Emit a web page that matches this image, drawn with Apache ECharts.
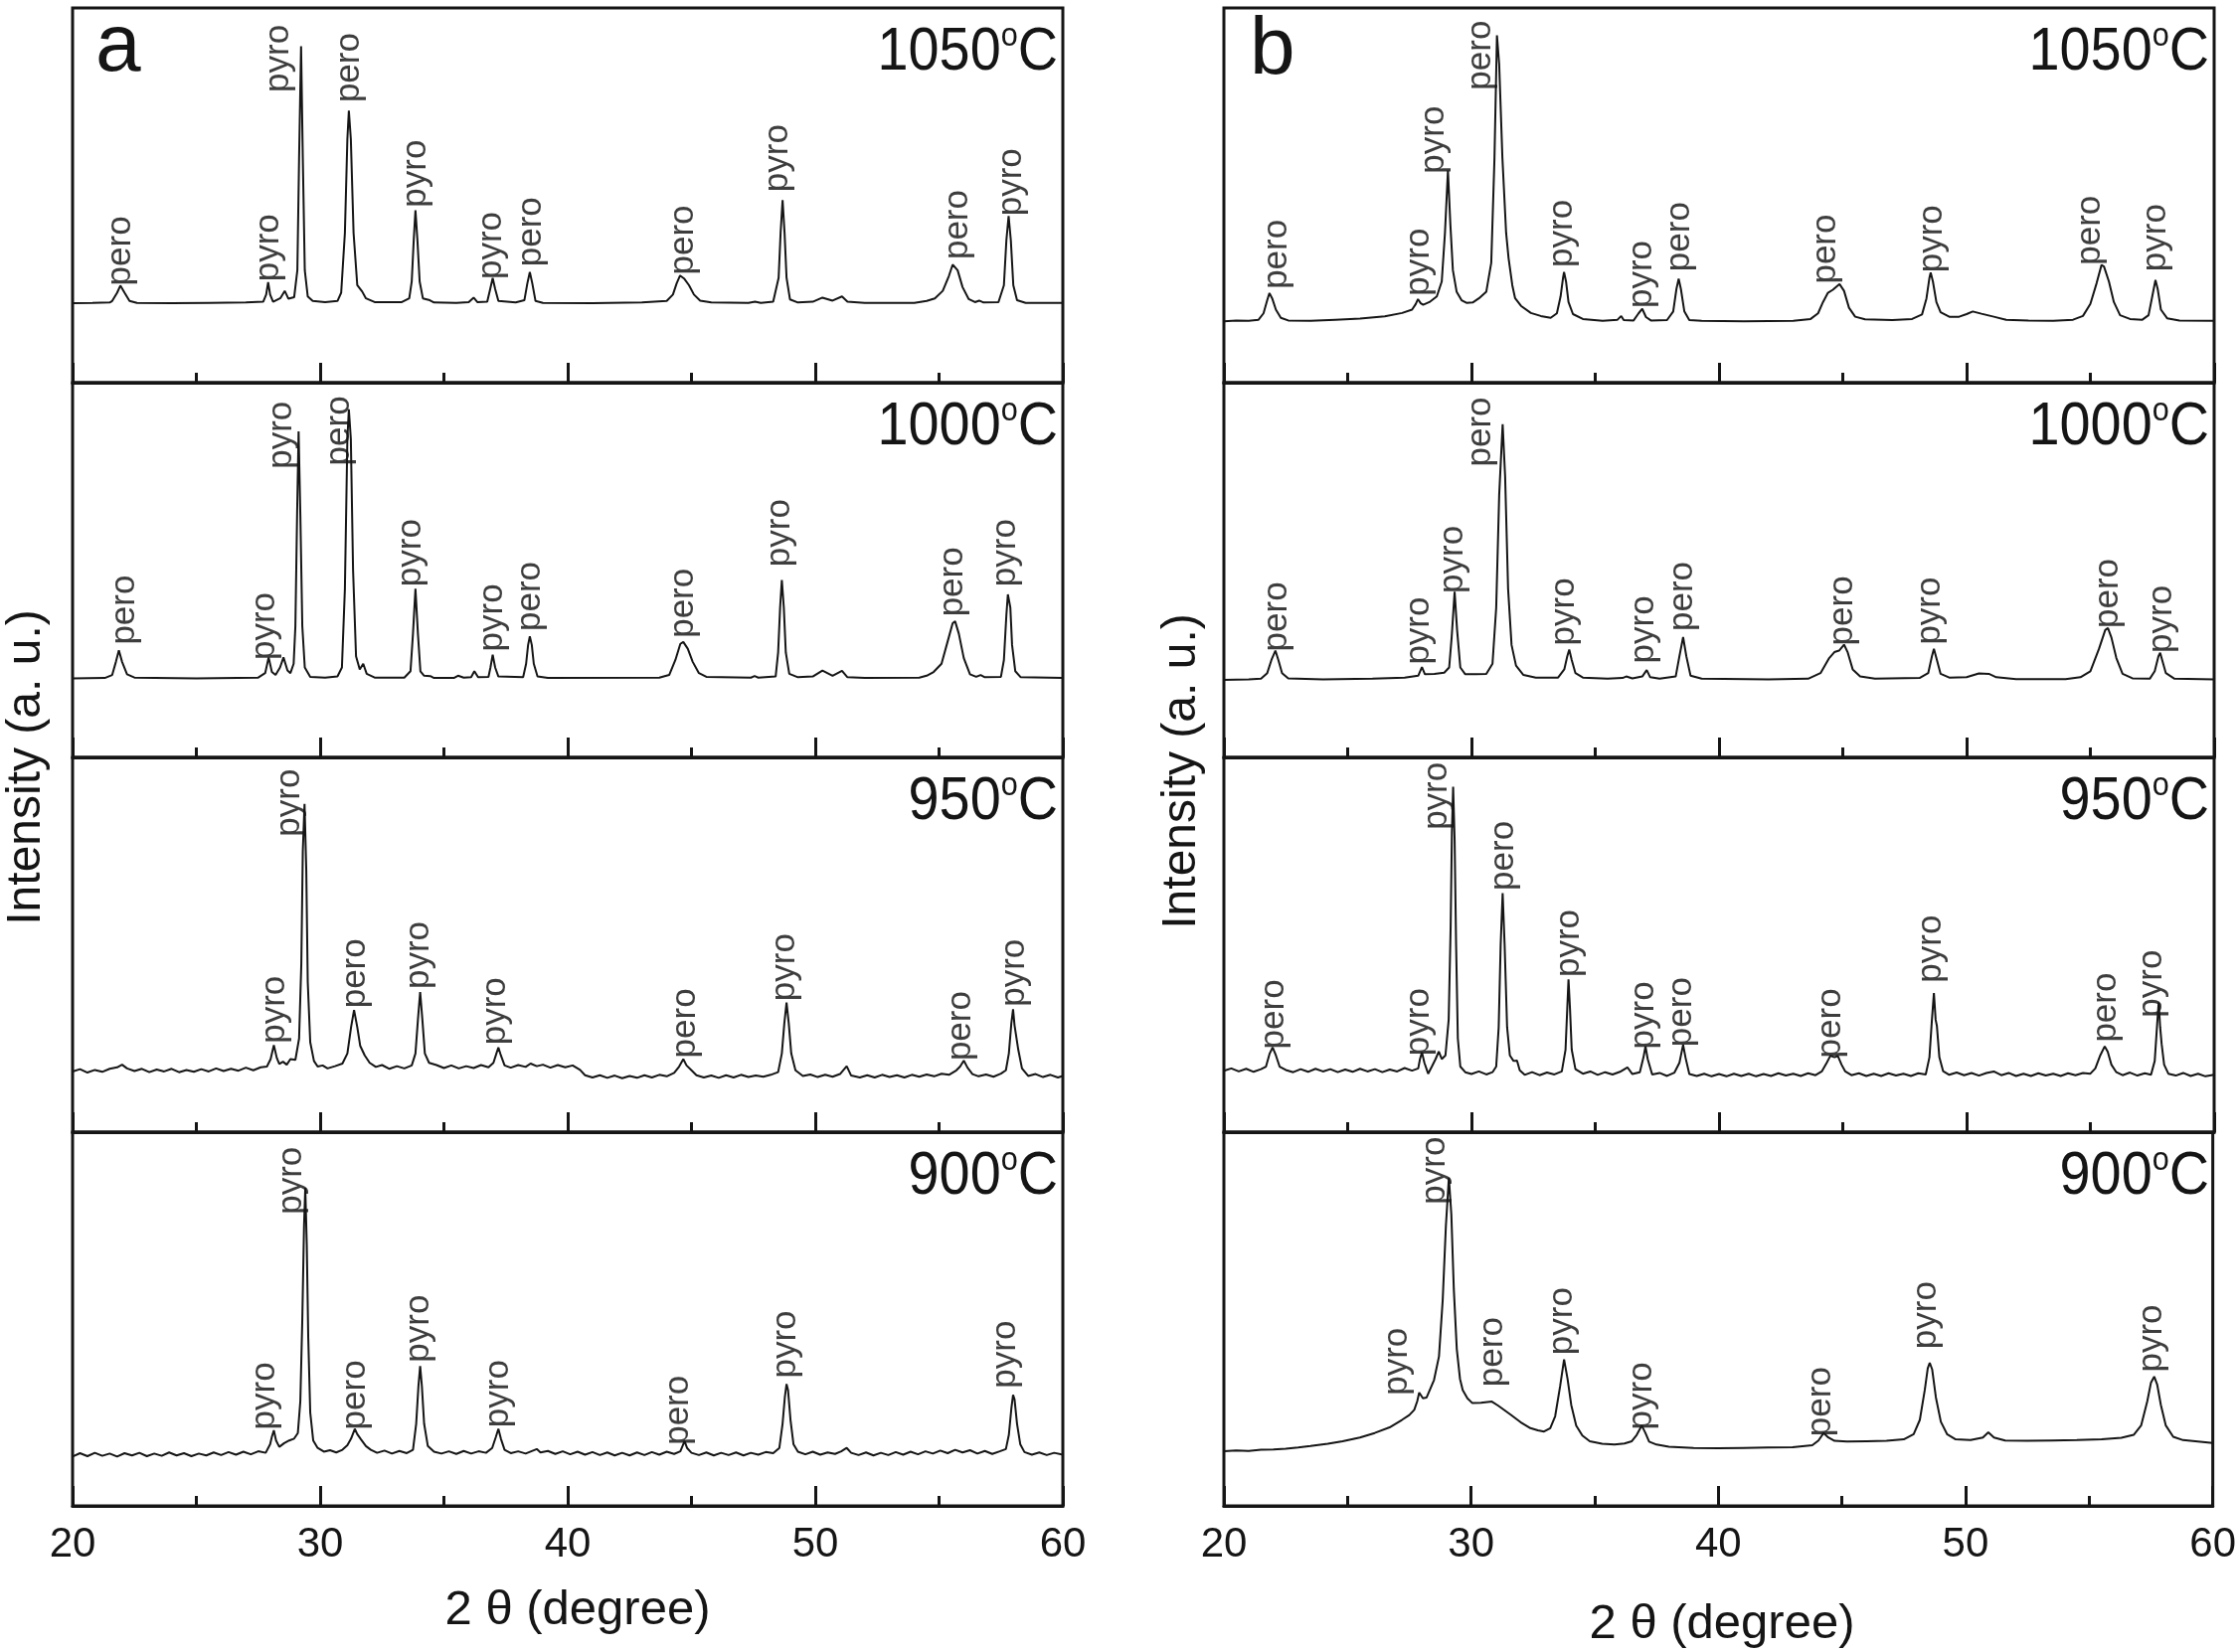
<!DOCTYPE html>
<html><head><meta charset="utf-8">
<script src="https://cdn.jsdelivr.net/npm/echarts@6/dist/echarts.min.js"></script>
<style>html,body{margin:0;padding:0;background:#fff}#c{width:2252px;height:1662px}</style>
</head><body><div id="c"></div>
<script>
// ---- Panel a traces (2θ in degree, intensity in % of sub-plot height) ----
const a1050 = [[20,21.2],[20.8,21.3],[21.5,21.4],[21.6,21.8],[21.8,24.0],[21.93,25.9],[22.1,24.0],[22.3,21.8],[22.6,21.3],[24,21.2],[25.5,21.3],[27,21.4],[27.7,21.6],[27.82,23.5],[27.9,26.8],[27.98,23.5],[28.1,21.6],[28.4,22.6],[28.57,24.5],[28.72,22.4],[28.95,22.8],[29.08,30],[29.15,60],[29.23,89.8],[29.3,60],[29.38,30],[29.5,23],[29.7,21.8],[30.2,21.5],[30.7,21.8],[30.85,24],[31.0,40],[31.1,65],[31.16,72.6],[31.24,65],[31.35,40],[31.5,26],[31.7,24.3],[31.85,22.5],[32.2,21.5],[33.3,21.5],[33.6,22.5],[33.7,27],[33.78,38],[33.85,46],[33.93,38],[34.02,27],[34.15,22.5],[34.43,22.0],[34.6,21.4],[35.5,21.3],[36.0,21.5],[36.2,22.7],[36.35,21.5],[36.75,21.6],[36.87,25],[36.97,27.9],[37.07,25],[37.2,21.8],[37.9,21.4],[38.25,22],[38.37,26.5],[38.47,29.5],[38.57,26.5],[38.7,21.8],[39,21.3],[41,21.2],[43,21.4],[44.0,21.8],[44.25,23.5],[44.4,26.5],[44.54,28.6],[44.7,27.8],[44.9,26.0],[45.1,23.5],[45.35,21.9],[45.8,21.4],[47.3,21.3],[47.57,21.6],[47.8,21.3],[48.3,21.6],[48.52,28],[48.6,40],[48.68,48.7],[48.76,40],[48.84,28],[48.98,22.2],[49.3,21.4],[49.9,21.6],[50.29,22.7],[50.7,21.9],[51.08,23.0],[51.3,21.6],[52,21.3],[54.0,21.3],[54.5,21.8],[54.83,22.5],[55.15,24.5],[55.4,28.5],[55.55,31.5],[55.62,31.9],[55.75,30],[55.95,25.5],[56.2,22.3],[56.45,21.5],[56.62,21.9],[56.8,21.4],[57.4,21.5],[57.62,26],[57.72,38],[57.81,44.5],[57.9,38],[58.0,26],[58.15,22],[58.5,21.3],[60,21.3]];
const a1000 = [[20,21.1],[21.3,21.2],[21.6,22],[21.75,25.5],[21.87,28.6],[22.0,25.5],[22.2,22.2],[22.5,21.3],[25,21.1],[27.5,21.3],[27.78,22.5],[27.92,26.7],[28.05,22.8],[28.2,22.0],[28.38,24],[28.52,26.7],[28.68,23.2],[28.8,22.5],[28.93,25],[29.0,35],[29.07,65],[29.13,87],[29.2,65],[29.28,35],[29.38,24],[29.6,21.5],[30.2,21.3],[30.7,21.6],[30.88,24],[31.0,45],[31.1,85],[31.16,92.9],[31.24,85],[31.33,50],[31.45,27],[31.6,23.5],[31.74,25.0],[31.88,22.3],[32.2,21.3],[33.4,21.3],[33.65,23],[33.75,33],[33.85,45],[33.95,33],[34.05,23],[34.2,21.8],[34.45,21.7],[34.6,21.2],[35.4,21.2],[35.57,21.8],[35.8,21.3],[36.1,21.4],[36.23,23],[36.38,21.4],[36.8,21.5],[36.88,24],[36.97,27.4],[37.07,24],[37.2,21.6],[38.2,21.4],[38.32,25],[38.4,30],[38.47,32.3],[38.55,30],[38.63,25],[38.78,21.6],[39.2,21.2],[43.7,21.3],[44.1,22],[44.35,26],[44.55,30.3],[44.67,30.8],[44.85,29],[45.05,25.5],[45.3,22.5],[45.6,21.5],[47.4,21.3],[47.55,21.7],[47.7,21.3],[48.4,21.6],[48.5,28],[48.58,40],[48.65,47.3],[48.73,40],[48.81,28],[48.95,22.3],[49.3,21.4],[49.9,21.6],[50.29,23.2],[50.7,21.8],[51.08,23.1],[51.3,21.4],[52,21.2],[54.2,21.3],[54.5,21.8],[54.78,22.8],[55.1,25],[55.35,31],[55.55,35.8],[55.65,36.3],[55.8,33],[56.0,26.5],[56.25,22.2],[56.5,21.5],[56.68,22.0],[56.85,21.4],[57.5,21.5],[57.62,26],[57.72,38],[57.78,43.5],[57.88,40],[57.95,30],[58.08,23],[58.3,21.4],[60,21.2]];
const a950 = [[20,16.2],[20.3,16.8],[20.6,15.9],[20.9,16.6],[21.2,16.1],[21.5,16.9],[21.8,17.3],[22.0,18.0],[22.2,17.0],[22.5,16.3],[22.8,16.9],[23.1,16.0],[23.4,16.7],[23.7,16.2],[24.0,16.9],[24.3,16.0],[24.6,16.6],[24.9,16.1],[25.2,16.8],[25.5,16.2],[25.8,17.0],[26.1,16.3],[26.4,16.9],[26.7,16.4],[27.0,17.2],[27.3,16.5],[27.6,17.3],[27.85,17.5],[28.0,19.5],[28.13,23.2],[28.25,19.8],[28.35,18.2],[28.5,18.8],[28.65,18.0],[28.8,19.5],[29.0,19.3],[29.15,25],[29.24,45],[29.3,75],[29.37,87.6],[29.44,70],[29.5,40],[29.6,24],[29.75,19],[29.9,17.5],[30.1,17.8],[30.3,17.0],[30.6,17.6],[30.9,18.3],[31.1,21],[31.25,28],[31.37,32.6],[31.5,28],[31.62,23],[31.8,20.5],[32.0,18.5],[32.25,17.4],[32.5,17.9],[32.8,16.9],[33.1,17.6],[33.4,17.0],[33.7,17.8],[33.85,21],[33.95,30],[34.04,37.4],[34.13,30],[34.23,21],[34.4,18.5],[34.7,17.9],[35.0,17.1],[35.3,17.8],[35.6,17.0],[35.9,17.6],[36.2,17.1],[36.5,17.9],[36.8,17.3],[37.0,18.5],[37.12,21],[37.2,22.6],[37.3,20.5],[37.45,17.8],[37.7,17.2],[38.0,17.9],[38.3,17.4],[38.5,18.3],[38.75,17.6],[39.0,18.0],[39.3,17.2],[39.6,17.9],[39.9,17.3],[40.2,17.8],[40.5,16.6],[40.7,15.2],[41.0,14.6],[41.3,15.2],[41.6,14.5],[41.9,15.1],[42.2,14.4],[42.5,15.0],[42.8,14.5],[43.1,15.2],[43.4,14.6],[43.7,15.3],[44.0,14.9],[44.3,15.8],[44.5,17.5],[44.67,19.5],[44.8,17.8],[45.0,16.5],[45.2,15.2],[45.5,14.6],[45.8,15.1],[46.1,14.5],[46.4,15.2],[46.7,14.6],[47.0,15.3],[47.3,14.7],[47.6,15.1],[47.9,14.8],[48.2,15.3],[48.5,16.0],[48.65,21],[48.75,29],[48.84,34.6],[48.93,29],[49.03,21],[49.2,16.5],[49.5,15.0],[49.8,15.4],[50.1,14.7],[50.4,15.3],[50.7,14.8],[51.0,15.5],[51.27,17.6],[51.45,15.1],[51.8,14.6],[52.1,15.2],[52.4,14.6],[52.7,15.3],[53.0,14.7],[53.3,15.2],[53.6,14.6],[53.9,15.3],[54.2,14.8],[54.5,15.4],[54.8,14.9],[55.1,15.6],[55.4,15.3],[55.7,16.5],[55.85,17.5],[56.0,19.1],[56.15,17.2],[56.35,15.5],[56.6,14.9],[56.9,15.4],[57.2,14.8],[57.5,15.6],[57.7,16.5],[57.82,21],[57.92,29],[57.99,32.8],[58.05,28.5],[58.1,28.0],[58.2,22],[58.35,17],[58.6,15.0],[58.9,15.5],[59.2,14.7],[59.5,15.3],[59.8,14.6],[60,15.0]];
const a900 = [[20,13.2],[20.3,14.1],[20.6,13.3],[20.9,14.2],[21.2,13.4],[21.5,14.0],[21.8,13.2],[22.1,14.1],[22.4,13.5],[22.7,14.2],[23.0,13.3],[23.3,14.0],[23.6,13.4],[23.9,14.3],[24.2,13.5],[24.5,14.1],[24.8,13.3],[25.1,14.0],[25.4,13.5],[25.7,14.3],[26.0,13.6],[26.3,14.4],[26.6,13.7],[26.9,14.5],[27.2,13.8],[27.5,14.6],[27.8,14.2],[27.98,16.5],[28.05,18.5],[28.13,20.2],[28.22,17.5],[28.35,15.8],[28.55,16.8],[28.75,17.5],[28.95,18.0],[29.1,19.5],[29.2,28],[29.28,50],[29.35,75],[29.4,85.1],[29.46,70],[29.52,45],[29.6,25],[29.72,17.5],[29.9,15.5],[30.15,14.5],[30.4,14.9],[30.65,14.3],[30.9,15.0],[31.1,16.2],[31.25,18.0],[31.4,20.6],[31.5,19.2],[31.65,17.8],[31.85,16.0],[32.05,15.0],[32.3,14.2],[32.6,14.8],[32.9,14.0],[33.2,14.7],[33.5,14.1],[33.75,15.0],[33.88,22],[33.97,32],[34.04,37.4],[34.11,32],[34.2,22],[34.35,16],[34.6,14.5],[34.9,14.0],[35.2,14.6],[35.5,13.9],[35.8,14.7],[36.1,14.0],[36.4,14.6],[36.7,14.2],[36.95,15.5],[37.1,18.5],[37.2,20.6],[37.3,18],[37.45,15.0],[37.7,14.1],[38.0,14.6],[38.3,14.0],[38.6,14.8],[38.75,15.2],[38.9,14.3],[39.2,14.7],[39.5,13.9],[39.8,14.6],[40.1,13.8],[40.4,14.5],[40.7,13.7],[41.0,14.4],[41.3,13.6],[41.6,14.3],[41.9,13.5],[42.2,14.2],[42.5,13.5],[42.8,14.3],[43.1,13.6],[43.4,14.4],[43.7,13.7],[44.0,14.5],[44.3,13.9],[44.55,14.6],[44.65,16.2],[44.72,17.3],[44.82,15.5],[45.0,14.2],[45.3,13.6],[45.6,14.3],[45.9,13.5],[46.2,14.2],[46.5,13.6],[46.8,14.3],[47.1,13.5],[47.4,14.2],[47.7,13.7],[48.0,14.4],[48.3,14.1],[48.55,15.5],[48.68,22],[48.77,29],[48.84,32.6],[48.9,31],[49.0,23],[49.12,16.5],[49.3,14.5],[49.6,13.8],[49.9,14.5],[50.2,13.7],[50.5,14.3],[50.8,13.9],[51.05,14.6],[51.27,15.5],[51.45,14.2],[51.75,13.6],[52.05,14.3],[52.35,13.5],[52.65,14.2],[52.95,13.6],[53.25,14.4],[53.55,13.7],[53.85,14.5],[54.15,13.8],[54.45,14.6],[54.75,14.0],[55.05,14.8],[55.35,14.1],[55.65,15.0],[55.95,14.3],[56.25,14.9],[56.55,14.0],[56.85,14.7],[57.15,13.9],[57.45,14.6],[57.7,15.2],[57.82,19],[57.92,26],[57.99,29.7],[58.05,28.5],[58.15,22],[58.28,16.5],[58.45,14.4],[58.75,13.7],[59.05,14.3],[59.35,13.6],[59.65,14.2],[60,13.7]];

// ---- Panel b traces ----
const b1050 = [[20,16.4],[20.5,16.6],[21.0,16.5],[21.4,16.8],[21.6,18.5],[21.75,22],[21.84,23.9],[21.95,22.5],[22.1,19.5],[22.3,17.3],[22.6,16.6],[23.5,16.5],[24.5,16.8],[25.5,17.1],[26.5,17.7],[27.2,18.6],[27.6,19.5],[27.75,21],[27.84,22.3],[27.95,21.2],[28.05,20.8],[28.3,21.5],[28.6,23.0],[28.8,27],[28.93,40],[29.05,56.6],[29.15,42],[29.25,30],[29.4,24.3],[29.6,22.0],[29.8,21.3],[30.05,21.4],[30.3,22.5],[30.6,24.3],[30.8,32],[30.93,60],[31.03,92.7],[31.12,85],[31.25,60],[31.4,40],[31.5,33.2],[31.65,26],[31.76,22.6],[32.0,20.5],[32.4,18.6],[32.8,17.8],[33.2,17.3],[33.45,18.5],[33.6,23],[33.7,28],[33.74,29.5],[33.82,27],[33.92,21.5],[34.1,18.3],[34.5,17.0],[35.3,16.5],[35.9,16.8],[36.05,17.8],[36.15,16.7],[36.55,16.6],[36.75,18.5],[36.9,19.7],[37.05,17.5],[37.25,16.6],[37.9,16.7],[38.15,19],[38.28,25],[38.37,27.7],[38.46,25],[38.6,19],[38.8,16.7],[39.3,16.5],[41,16.4],[43,16.5],[43.7,17.0],[44.0,18.5],[44.2,21.5],[44.4,24.0],[44.6,24.8],[44.87,26.3],[45.05,24.5],[45.25,20],[45.5,17.6],[45.9,16.9],[47,16.7],[47.8,17.0],[48.2,18.2],[48.38,22.5],[48.5,28],[48.55,29.4],[48.64,27],[48.78,21.5],[48.95,18.8],[49.3,17.6],[49.7,17.6],[50.0,18.3],[50.25,19.0],[50.6,18.4],[51.1,17.6],[51.6,16.8],[52.5,16.6],[53.5,16.5],[54.3,16.8],[54.7,17.8],[55.0,21],[55.25,26.5],[55.45,31.4],[55.55,31.0],[55.75,27],[55.95,21.5],[56.2,18.0],[56.6,17.0],[57.1,16.8],[57.35,18],[57.5,23],[57.63,27.4],[57.72,25],[57.85,19.5],[58.1,17.2],[58.6,16.6],[60,16.5]];
const b1000 = [[20,20.7],[21.0,20.8],[21.5,21.0],[21.75,22.5],[21.92,26],[22.08,28.5],[22.2,26],[22.35,22.5],[22.6,21.1],[24,20.8],[26,21.0],[27.3,21.3],[27.85,21.8],[28.0,24.1],[28.12,22.2],[28.5,22.3],[28.9,22.6],[29.1,24],[29.2,32],[29.32,44.2],[29.42,34],[29.55,24],[29.75,22.2],[30.2,22.2],[30.6,22.3],[30.85,25],[31.0,40],[31.12,70],[31.26,88.9],[31.36,75],[31.48,45],[31.62,30],[31.8,24.5],[32.1,22.0],[32.6,21.3],[33.5,21.3],[33.75,23.5],[33.87,27],[33.95,28.8],[34.05,26],[34.2,22.5],[34.5,21.3],[35.5,21.0],[36.1,21.2],[36.25,21.6],[36.5,21.1],[36.9,21.6],[37.08,23.3],[37.22,21.4],[37.6,21.0],[38.25,21.6],[38.4,27],[38.55,32.1],[38.68,27],[38.85,21.8],[39.3,21.0],[42,20.8],[43.6,21.0],[44.1,22.5],[44.45,26.5],[44.66,28.1],[44.85,28.5],[45.05,30.1],[45.2,28],[45.4,23.5],[45.7,21.6],[46.3,21.0],[48.1,21.2],[48.45,22.5],[48.6,27],[48.68,29.0],[48.78,26.5],[48.95,22.3],[49.3,21.3],[50.0,21.4],[50.5,22.4],[50.9,22.3],[51.2,21.4],[52,20.9],[54,20.9],[54.6,21.4],[55.0,23],[55.35,29],[55.6,34.0],[55.71,34.5],[55.85,32],[56.05,26.5],[56.3,22.3],[56.7,21.1],[57.4,21.0],[57.6,23],[57.75,27],[57.82,27.9],[57.9,26],[58.05,22.5],[58.4,21.0],[60,20.8]];
const b950 = [[20,16.4],[20.3,17.0],[20.6,16.2],[20.9,16.9],[21.2,16.1],[21.5,16.8],[21.7,17.5],[21.85,21.0],[21.97,22.6],[22.1,20.5],[22.25,17.5],[22.5,16.6],[22.8,16.0],[23.1,16.8],[23.4,16.1],[23.7,16.9],[24.0,16.2],[24.3,16.8],[24.6,16.0],[24.9,16.7],[25.2,16.1],[25.5,16.9],[25.8,16.2],[26.1,16.8],[26.4,16.0],[26.7,16.7],[27.0,16.2],[27.3,17.1],[27.6,16.4],[27.85,17.0],[27.92,19.5],[28.0,21.3],[28.1,18.5],[28.25,15.6],[28.4,17.5],[28.55,19.5],[28.68,21.5],[28.8,19.5],[28.95,20.5],[29.08,30],[29.16,55],[29.21,80],[29.26,92.2],[29.32,78],[29.38,50],[29.45,25],[29.55,17.5],[29.75,16.0],[30.0,15.5],[30.3,16.2],[30.6,15.4],[30.85,16.0],[31.0,17.5],[31.1,28],[31.18,50],[31.26,63.8],[31.34,50],[31.44,28],[31.55,20.5],[31.7,19.0],[31.84,19.1],[31.95,16.5],[32.15,15.3],[32.45,16.0],[32.75,15.2],[33.05,15.9],[33.35,15.4],[33.65,16.2],[33.8,22],[33.87,33],[33.92,40.8],[33.98,33],[34.05,22],[34.2,16.8],[34.5,15.6],[34.8,16.2],[35.1,15.3],[35.4,16.0],[35.7,15.4],[36.0,16.1],[36.3,17.3],[36.5,15.5],[36.8,16.0],[36.95,20],[37.03,22.9],[37.12,19.5],[37.3,15.4],[37.6,15.8],[37.9,15.0],[38.2,15.9],[38.4,18.5],[38.55,23.3],[38.65,19.8],[38.8,15.5],[39.1,15.0],[39.4,15.6],[39.7,14.9],[40.0,15.5],[40.3,14.9],[40.6,15.6],[40.9,15.0],[41.2,15.6],[41.5,14.9],[41.8,15.5],[42.1,15.0],[42.4,15.7],[42.7,15.1],[43.0,15.6],[43.3,15.0],[43.6,15.7],[43.9,15.2],[44.15,16.2],[44.35,18.5],[44.5,20.4],[44.66,20.0],[44.8,20.3],[44.95,18.0],[45.1,16.2],[45.35,15.2],[45.65,15.7],[45.95,15.0],[46.25,15.6],[46.55,15.0],[46.85,15.7],[47.15,15.1],[47.45,15.6],[47.75,15.0],[48.05,15.7],[48.35,15.4],[48.5,20],[48.6,30],[48.68,37.1],[48.75,30],[48.8,28.4],[48.9,20],[49.05,16.3],[49.3,15.3],[49.6,15.9],[49.9,15.2],[50.2,15.8],[50.5,15.1],[50.8,15.8],[51.1,16.2],[51.4,15.2],[51.7,15.8],[52.0,15.0],[52.3,15.6],[52.6,15.0],[52.9,15.7],[53.2,15.1],[53.5,15.6],[53.8,15.0],[54.1,15.7],[54.4,15.2],[54.7,15.8],[55.0,15.6],[55.2,17.0],[55.4,20.5],[55.58,22.9],[55.7,21.5],[55.85,18.0],[56.05,16.0],[56.3,15.2],[56.6,15.9],[56.9,15.1],[57.2,15.7],[57.45,15.3],[57.6,19],[57.7,29],[57.76,34.6],[57.82,28],[57.88,23.5],[57.98,18],[58.15,15.6],[58.45,15.1],[58.75,15.8],[59.05,15.0],[59.35,15.6],[59.65,14.9],[60,15.3]];
const b900 = [[20,14.6],[20.5,14.8],[21,14.7],[21.5,15.0],[22,15.1],[22.5,15.3],[23,15.6],[23.5,16.0],[24.2,16.6],[24.8,17.3],[25.5,18.3],[26.1,19.5],[26.7,21.0],[27.2,23.0],[27.5,24.3],[27.7,25.7],[27.82,28],[27.9,30.3],[28.05,28.8],[28.2,29.0],[28.5,33.7],[28.7,40],[28.85,55],[28.98,75],[29.1,87.8],[29.2,78],[29.3,58],[29.42,42],[29.55,34],[29.66,31.0],[29.85,28.8],[30.05,27.5],[30.4,27.6],[30.84,27.9],[31.1,26.8],[31.35,25.6],[31.6,24.4],[32.0,22.4],[32.4,20.8],[32.7,20.2],[32.95,19.9],[33.2,20.8],[33.4,24],[33.6,32],[33.76,39.2],[33.9,34],[34.05,27],[34.25,21.5],[34.5,18.8],[34.8,17.3],[35.3,16.6],[35.8,16.4],[36.2,16.7],[36.5,17.3],[36.7,19.0],[36.9,21.5],[37.05,19.5],[37.2,17.2],[37.5,16.4],[38,15.8],[39,15.5],[40,15.4],[41,15.5],[42,15.6],[43,15.7],[43.8,16.2],[44.05,17.5],[44.26,19.5],[44.45,18.3],[44.7,17.4],[45.2,17.2],[46,17.3],[46.8,17.4],[47.5,17.8],[47.9,19.2],[48.15,23],[48.35,31],[48.47,36.8],[48.55,38.3],[48.65,36.5],[48.8,29],[49.0,22.5],[49.25,19.2],[49.6,17.8],[50.2,17.6],[50.7,18.3],[50.92,19.7],[51.15,18.3],[51.6,17.5],[52.5,17.4],[53.5,17.5],[54.5,17.6],[55.5,17.8],[56.3,18.2],[56.8,19.0],[57.1,21.5],[57.35,28],[57.5,33],[57.63,34.6],[57.75,32.5],[57.9,27],[58.1,21.5],[58.4,18.5],[58.8,17.6],[59.4,17.2],[60,16.8]];

// ---- Peak labels: [2θ, bottom of label (same units as intensity), text] ----
const labA1050 = [[21.93,27.2,'pero'],[27.92,28.3,'pyro'],[28.31,78.8,'pyro'],[31.16,76.1,'pero'],[33.85,48.1,'pyro'],[36.94,28.9,'pyro'],[38.52,32.3,'pero'],[44.67,30.1,'pero'],[48.5,52.2,'pyro'],[55.75,34.2,'pero'],[57.94,45.8,'pyro']];
const labA1000 = [[22.1,31.4,'pero'],[27.78,27.3,'pyro'],[28.44,78.3,'pyro'],[30.77,79.2,'pero'],[33.67,46.9,'pyro'],[36.97,29.6,'pyro'],[38.47,35.0,'pero'],[44.67,33.2,'pero'],[48.55,52.2,'pyro'],[55.57,38.9,'pero'],[57.68,46.9,'pyro']];
const labA950 = [[28.18,25.0,'pyro'],[28.76,80.2,'pyro'],[31.4,34.4,'pero'],[33.98,39.5,'pyro'],[37.1,24.6,'pyro'],[44.75,21.1,'pero'],[48.76,36.3,'pyro'],[55.88,20.4,'pero'],[58.05,34.8,'pyro']];
const labA900 = [[27.78,21.7,'pyro'],[28.84,79.3,'pyro'],[31.4,21.7,'pero'],[33.98,39.7,'pyro'],[37.2,22.3,'pyro'],[44.49,17.6,'pero'],[48.81,35.5,'pyro'],[57.68,32.8,'pyro']];
const labB1050 = [[22.16,26.3,'pero'],[27.89,24.5,'pyro'],[28.47,57.1,'pyro'],[30.37,79.4,'pero'],[33.68,32.1,'pyro'],[36.89,21.2,'pyro'],[38.42,31.0,'pero'],[44.32,27.7,'pero'],[48.61,30.7,'pyro'],[55.0,32.7,'pero'],[57.63,31.0,'pyro']];
const labB1000 = [[22.16,29.6,'pero'],[27.89,26.1,'pyro'],[29.26,45.1,'pyro'],[30.37,78.9,'pero'],[33.74,31.2,'pyro'],[36.95,26.4,'pyro'],[38.53,35.0,'pero'],[45.0,31.2,'pero'],[48.53,31.4,'pyro'],[55.71,35.8,'pero'],[57.89,29.2,'pyro']];
const labB950 = [[22.03,23.5,'pero'],[27.89,21.7,'pyro'],[28.6,82.0,'pyro'],[31.29,65.8,'pero'],[33.95,42.7,'pyro'],[36.95,23.5,'pyro'],[38.47,24.1,'pero'],[44.53,21.1,'pero'],[48.55,41.2,'pyro'],[55.63,25.3,'pero'],[57.5,31.9,'pyro']];
const labB900 = [[27.03,30.9,'pyro'],[28.53,82.0,'pyro'],[30.89,33.2,'pero'],[33.68,41.7,'pyro'],[36.89,21.7,'pyro'],[44.13,19.9,'pero'],[48.42,43.3,'pyro'],[57.55,37.1,'pyro']];

const temperatures = ['1050', '1000', '950', '900'];
const panelLetters = ['a', 'b'];
const xTitle = '2 θ (degree)';
const yTitle = 'Intensity (a. u.)';

// ---- layout / style ----
const FONT = '"Liberation Sans", Arial, Helvetica, sans-serif';
const INK = '#151515';
const panels = [
  {left: 73, traces: [a1050, a1000, a950, a900], labels: [labA1050, labA1000, labA950, labA900]},
  {left: 1231, traces: [b1050, b1000, b950, b900], labels: [labB1050, labB1000, labB950, labB900]}
];
const PW = 996;
const tops = [8, 385, 762, 1139];
const hts = [377, 377, 377, 376];

const grid = [], xAxis = [], yAxis = [], series = [], title = [], graphic = [];
panels.forEach((p, pi) => {
  for (let k = 0; k < 4; k++) {
    const idx = pi * 4 + k;
    grid.push({left: p.left, top: tops[k], width: PW, height: hts[k], show: true,
      borderColor: INK, borderWidth: 3, backgroundColor: 'transparent', containLabel: false});
    xAxis.push({type: 'value', gridIndex: idx, min: 20, max: 60, interval: 10,
      axisLine: {show: true, onZero: false, lineStyle: {color: INK, width: 3}},
      axisTick: {show: true, inside: true, length: 20, lineStyle: {color: INK, width: 3}},
      minorTick: {show: true, splitNumber: 2, length: 10, lineStyle: {color: INK, width: 3}},
      splitLine: {show: false},
      axisLabel: {show: k === 3, fontSize: 42, color: INK, margin: 18, fontFamily: FONT}
    });
    yAxis.push({type: 'value', gridIndex: idx, min: 0, max: 100, show: false, splitLine: {show: false}});
    series.push({type: 'line', xAxisIndex: idx, yAxisIndex: idx, data: p.traces[k],
      showSymbol: false, symbol: 'none', smooth: false, silent: true,
      lineStyle: {color: INK, width: 2}});
    series.push({type: 'scatter', xAxisIndex: idx, yAxisIndex: idx, symbolSize: 1, silent: true,
      itemStyle: {color: 'transparent'},
      data: p.labels[k].map(l => ({value: [l[0], l[1]], name: l[2]})),
      label: {show: true, position: 'inside', rotate: 90, align: 'left', verticalAlign: 'middle',
        formatter: '{b}', fontSize: 35, color: '#0d0d0d', fontFamily: FONT, offset: [-5, 0]}
    });
    const rightEdge = p.left + PW - 5;
    graphic.push({type: 'text', x: rightEdge, y: tops[k] + 12, scaleX: 0.9, silent: true,
      style: {text: '{n|' + temperatures[k] + '}{s|o}{n|C}', align: 'right', verticalAlign: 'top',
        fill: INK, font: '62px ' + FONT,
        rich: {n: {fontSize: 62, lineHeight: 66, fontFamily: FONT, fill: INK, color: INK},
               s: {fontSize: 34, lineHeight: 28, verticalAlign: 'top', fontFamily: FONT, fill: INK, color: INK}}}});
  }
});
title.push({text: panelLetters[0], left: 96, top: 8, padding: 0,
  textStyle: {fontSize: 82, lineHeight: 80, fontWeight: 'normal', color: INK, fontFamily: FONT}});
title.push({text: panelLetters[1], left: 1257, top: 11, padding: 0,
  textStyle: {fontSize: 82, lineHeight: 80, fontWeight: 'normal', color: INK, fontFamily: FONT}});
title.push({text: xTitle, left: 581, top: 1596, textAlign: 'center', padding: 0,
  textStyle: {fontSize: 49, lineHeight: 48, fontWeight: 'normal', color: INK, fontFamily: FONT}});
title.push({text: xTitle, left: 1732, top: 1610, textAlign: 'center', padding: 0,
  textStyle: {fontSize: 49, lineHeight: 48, fontWeight: 'normal', color: INK, fontFamily: FONT}});
graphic.push({type: 'text', x: 27, y: 772, rotation: Math.PI / 2, silent: true,
  style: {text: yTitle, font: '48px ' + FONT, fill: INK, align: 'center', verticalAlign: 'middle'}});
graphic.push({type: 'text', x: 1189, y: 776, rotation: Math.PI / 2, silent: true,
  style: {text: yTitle, font: '48px ' + FONT, fill: INK, align: 'center', verticalAlign: 'middle'}});

const chart = echarts.init(document.getElementById('c'), null, {renderer: 'canvas'});
chart.setOption({
  animation: false,
  backgroundColor: '#ffffff',
  title: title,
  grid: grid,
  xAxis: xAxis,
  yAxis: yAxis,
  series: series,
  graphic: graphic
});
</script>
</body></html>
